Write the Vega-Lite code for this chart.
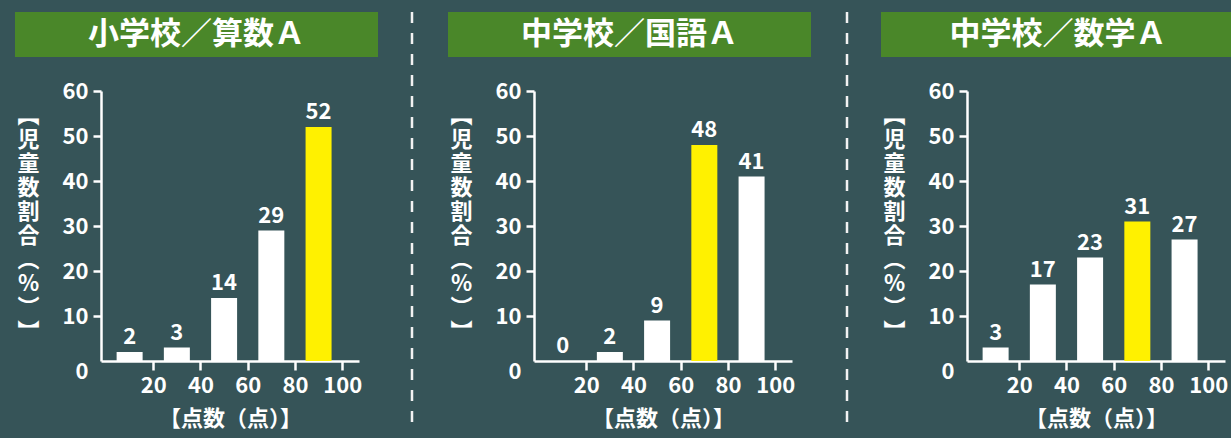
{
  "$schema": "https://vega.github.io/schema/vega-lite/v6.json",
  "background": "#365458",
  "padding": {"left": 15, "top": 10, "right": 0, "bottom": 10},
  "datasets": {
    "scores": [
      {"panel": "小学校／算数Ａ", "range": "0-20", "mid": 10, "value": 2},
      {"panel": "小学校／算数Ａ", "range": "20-40", "mid": 30, "value": 3},
      {"panel": "小学校／算数Ａ", "range": "40-60", "mid": 50, "value": 14},
      {"panel": "小学校／算数Ａ", "range": "60-80", "mid": 70, "value": 29},
      {"panel": "小学校／算数Ａ", "range": "80-100", "mid": 90, "value": 52},
      {"panel": "中学校／国語Ａ", "range": "0-20", "mid": 10, "value": 0},
      {"panel": "中学校／国語Ａ", "range": "20-40", "mid": 30, "value": 2},
      {"panel": "中学校／国語Ａ", "range": "40-60", "mid": 50, "value": 9},
      {"panel": "中学校／国語Ａ", "range": "60-80", "mid": 70, "value": 48},
      {"panel": "中学校／国語Ａ", "range": "80-100", "mid": 90, "value": 41},
      {"panel": "中学校／数学Ａ", "range": "0-20", "mid": 10, "value": 3},
      {"panel": "中学校／数学Ａ", "range": "20-40", "mid": 30, "value": 17},
      {"panel": "中学校／数学Ａ", "range": "40-60", "mid": 50, "value": 23},
      {"panel": "中学校／数学Ａ", "range": "60-80", "mid": 70, "value": 31},
      {"panel": "中学校／数学Ａ", "range": "80-100", "mid": 90, "value": 27}
    ]
  },
  "spacing": 32,
  "hconcat": [
    {
      "spacing": 23,
      "vconcat": [
        {
          "width": 363, "height": 45,
          "view": {"fill": "#4a8729", "stroke": null},
          "data": {"values": [{"title": "小学校／算数Ａ"}]},
          "mark": {"type": "text", "color": "#ffffff", "font": "Noto Sans CJK JP", "fontWeight": "bold", "fontSize": 31, "align": "center", "baseline": "middle"},
          "encoding": {"text": {"field": "title", "type": "nominal"}}
        },
        {
          "width": 344, "height": 270,
          "data": {"name": "scores"},
          "transform": [
            {"filter": "datum.panel === '小学校／算数Ａ'"},
            {"joinaggregate": [{"op": "max", "field": "value", "as": "maxValue"}]}
          ],
          "encoding": {
            "x": {"field": "mid", "type": "quantitative", "scale": {"domain": [0, 105], "range": [86, 344], "nice": false},
                  "axis": {"values": [20, 40, 60, 80, 100], "tickSize": 9, "labelPadding": 5, "title": "【点数（点）】", "titleFontSize": 22, "titlePadding": 12}},
            "y": {"field": "value", "type": "quantitative", "scale": {"domain": [0, 60], "nice": false},
                  "axis": {"offset": -86, "values": [0, 10, 20, 30, 40, 50, 60], "tickSize": 8, "labelPadding": 5,
                           "tickOpacity": {"expr": "datum.value === 0 ? 0 : 1"},
                           "labelBaseline": {"expr": "datum.value === 0 ? 'top' : 'middle'"},
                           "title": ["︻", "児", "童", "数", "割", "合", "︵", "%", "︶", "︼"],
                           "titleAngle": 0, "titleAlign": "center", "titleBaseline": "middle", "titleX": -73, "titleY": 24, "titleFontSize": 22, "titleLineHeight": 24}}
          },
          "layer": [
            {"mark": {"type": "bar", "size": 26},
             "encoding": {"color": {"condition": {"test": "datum.value === datum.maxValue", "value": "#fff100"}, "value": "#ffffff"}}},
            {"mark": {"type": "text", "baseline": "alphabetic", "dy": -8, "color": "#ffffff", "font": "Noto Sans CJK JP", "fontWeight": "bold", "fontSize": 22},
             "encoding": {"text": {"field": "value", "type": "quantitative"}}}
          ]
        }
      ]
    },
    {
      "width": 4, "height": 418,
      "data": {"values": [{}]},
      "mark": {"type": "rule", "color": "#f2f2f2", "strokeWidth": 2.5, "strokeDash": [11, 10]},
      "encoding": {"x": {"datum": 0, "type": "quantitative", "scale": {"domain": [0, 1]}, "axis": null}}
    },
    {
      "spacing": 23,
      "vconcat": [
        {
          "width": 363, "height": 45,
          "view": {"fill": "#4a8729", "stroke": null},
          "data": {"values": [{"title": "中学校／国語Ａ"}]},
          "mark": {"type": "text", "color": "#ffffff", "font": "Noto Sans CJK JP", "fontWeight": "bold", "fontSize": 31, "align": "center", "baseline": "middle"},
          "encoding": {"text": {"field": "title", "type": "nominal"}}
        },
        {
          "width": 344, "height": 270,
          "data": {"name": "scores"},
          "transform": [
            {"filter": "datum.panel === '中学校／国語Ａ'"},
            {"joinaggregate": [{"op": "max", "field": "value", "as": "maxValue"}]}
          ],
          "encoding": {
            "x": {"field": "mid", "type": "quantitative", "scale": {"domain": [0, 105], "range": [86, 344], "nice": false},
                  "axis": {"values": [20, 40, 60, 80, 100], "tickSize": 9, "labelPadding": 5, "title": "【点数（点）】", "titleFontSize": 22, "titlePadding": 12}},
            "y": {"field": "value", "type": "quantitative", "scale": {"domain": [0, 60], "nice": false},
                  "axis": {"offset": -86, "values": [0, 10, 20, 30, 40, 50, 60], "tickSize": 8, "labelPadding": 5,
                           "tickOpacity": {"expr": "datum.value === 0 ? 0 : 1"},
                           "labelBaseline": {"expr": "datum.value === 0 ? 'top' : 'middle'"},
                           "title": ["︻", "児", "童", "数", "割", "合", "︵", "%", "︶", "︼"],
                           "titleAngle": 0, "titleAlign": "center", "titleBaseline": "middle", "titleX": -73, "titleY": 24, "titleFontSize": 22, "titleLineHeight": 24}}
          },
          "layer": [
            {"mark": {"type": "bar", "size": 26},
             "encoding": {"color": {"condition": {"test": "datum.value === datum.maxValue", "value": "#fff100"}, "value": "#ffffff"}}},
            {"mark": {"type": "text", "baseline": "alphabetic", "dy": -8, "color": "#ffffff", "font": "Noto Sans CJK JP", "fontWeight": "bold", "fontSize": 22},
             "encoding": {"text": {"field": "value", "type": "quantitative"}}}
          ]
        }
      ]
    },
    {
      "width": 4, "height": 418,
      "data": {"values": [{}]},
      "mark": {"type": "rule", "color": "#f2f2f2", "strokeWidth": 2.5, "strokeDash": [11, 10]},
      "encoding": {"x": {"datum": 1, "type": "quantitative", "scale": {"domain": [0, 1]}, "axis": null}}
    },
    {
      "spacing": 23,
      "vconcat": [
        {
          "width": 354, "height": 45,
          "view": {"fill": "#4a8729", "stroke": null},
          "data": {"values": [{"title": "中学校／数学Ａ"}]},
          "mark": {"type": "text", "color": "#ffffff", "font": "Noto Sans CJK JP", "fontWeight": "bold", "fontSize": 31, "align": "center", "baseline": "middle"},
          "encoding": {"text": {"field": "title", "type": "nominal"}}
        },
        {
          "width": 344, "height": 270,
          "data": {"name": "scores"},
          "transform": [
            {"filter": "datum.panel === '中学校／数学Ａ'"},
            {"joinaggregate": [{"op": "max", "field": "value", "as": "maxValue"}]}
          ],
          "encoding": {
            "x": {"field": "mid", "type": "quantitative", "scale": {"domain": [0, 105], "range": [86, 344], "nice": false},
                  "axis": {"values": [20, 40, 60, 80, 100], "tickSize": 9, "labelPadding": 5, "title": "【点数（点）】", "titleFontSize": 22, "titlePadding": 12}},
            "y": {"field": "value", "type": "quantitative", "scale": {"domain": [0, 60], "nice": false},
                  "axis": {"offset": -86, "values": [0, 10, 20, 30, 40, 50, 60], "tickSize": 8, "labelPadding": 5,
                           "tickOpacity": {"expr": "datum.value === 0 ? 0 : 1"},
                           "labelBaseline": {"expr": "datum.value === 0 ? 'top' : 'middle'"},
                           "title": ["︻", "児", "童", "数", "割", "合", "︵", "%", "︶", "︼"],
                           "titleAngle": 0, "titleAlign": "center", "titleBaseline": "middle", "titleX": -73, "titleY": 24, "titleFontSize": 22, "titleLineHeight": 24}}
          },
          "layer": [
            {"mark": {"type": "bar", "size": 26},
             "encoding": {"color": {"condition": {"test": "datum.value === datum.maxValue", "value": "#fff100"}, "value": "#ffffff"}}},
            {"mark": {"type": "text", "baseline": "alphabetic", "dy": -8, "color": "#ffffff", "font": "Noto Sans CJK JP", "fontWeight": "bold", "fontSize": 22},
             "encoding": {"text": {"field": "value", "type": "quantitative"}}}
          ]
        }
      ]
    }
  ],
  "config": {
    "view": {"stroke": null},
    "axis": {
      "grid": false,
      "domainColor": "#ffffff", "domainWidth": 2.5,
      "tickColor": "#ffffff", "tickWidth": 2.5,
      "labelColor": "#ffffff", "labelFont": "Noto Sans CJK JP", "labelFontWeight": "bold", "labelFontSize": 22,
      "titleColor": "#ffffff", "titleFont": "Noto Sans CJK JP", "titleFontWeight": "bold"
    }
  }
}
